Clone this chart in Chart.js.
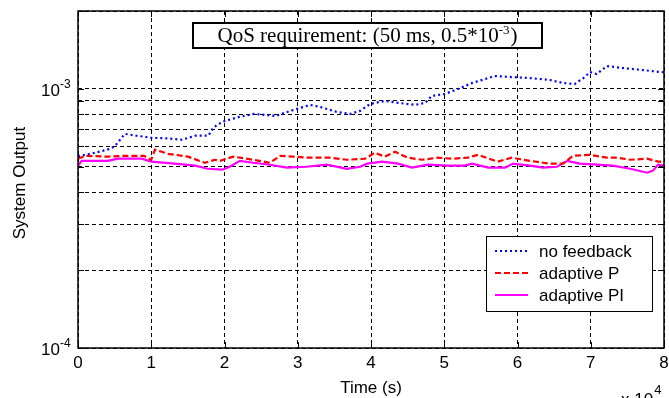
<!DOCTYPE html>
<html>
<head>
<meta charset="utf-8">
<script src="https://cdn.jsdelivr.net/npm/chart.js@4/dist/chart.umd.min.js"></script>
<style>
  html, body { margin: 0; padding: 0; background: #fff; }
  #wrap { width: 669px; height: 398px; position: relative; }
</style>
</head>
<body>
<div id="wrap"><canvas id="c" width="669" height="398"></canvas></div>
<script>
// ---- data (time in seconds, output values) ----
const noFeedbackTime = [0,2300,4000,5000,6400,8000,10000,12000,14200,16000,17800,18500,19700,22000,24000,27000,29400,31700,33000,35300,37100,38500,39900,41900,43700,46000,47400,48300,50100,51900,53800,55600,56900,59200,61700,64400,66200,67800,69000,69900,70800,72200,74400,77100,79500,80000];
const noFeedbackOutput = [5.50e-4,5.67e-4,5.83e-4,6.00e-4,6.71e-4,6.60e-4,6.48e-4,6.45e-4,6.37e-4,6.60e-4,6.60e-4,7.10e-4,7.47e-4,7.80e-4,8.01e-4,7.87e-4,8.30e-4,8.68e-4,8.53e-4,8.16e-4,8.01e-4,8.23e-4,8.76e-4,8.99e-4,8.84e-4,8.68e-4,8.84e-4,9.40e-4,9.57e-4,1.000e-3,1.055e-3,1.093e-3,1.122e-3,1.112e-3,1.102e-3,1.083e-3,1.055e-3,1.045e-3,1.102e-3,1.163e-3,1.142e-3,1.226e-3,1.204e-3,1.183e-3,1.163e-3,1.160e-3];

const adaptivePTime = [0,1000,4000,6500,9000,10000,10500,12300,15000,17300,18700,19400,21200,23900,26200,27600,29400,31200,34400,36700,39200,40500,41900,43300,45000,47000,49100,51000,53200,54600,57300,59200,61700,64400,66200,67600,69900,72200,73600,75400,77700,79200,80000];
const adaptivePOutput = [5.38e-4,5.52e-4,5.48e-4,5.52e-4,5.52e-4,5.33e-4,5.83e-4,5.62e-4,5.48e-4,5.19e-4,5.33e-4,5.28e-4,5.48e-4,5.33e-4,5.19e-4,5.52e-4,5.48e-4,5.43e-4,5.43e-4,5.33e-4,5.38e-4,5.67e-4,5.48e-4,5.72e-4,5.43e-4,5.33e-4,5.43e-4,5.38e-4,5.43e-4,5.57e-4,5.24e-4,5.43e-4,5.28e-4,5.15e-4,5.15e-4,5.52e-4,5.57e-4,5.43e-4,5.43e-4,5.33e-4,5.38e-4,5.24e-4,5.24e-4];

const adaptivePITime = [0,500,2300,4000,5500,8700,10000,13200,16000,17700,19700,20700,22100,23900,26200,28500,31200,34000,36700,38500,39500,41500,43700,45600,47800,50500,52800,53800,56000,58300,59400,61700,63500,65400,66800,68500,70800,73000,75400,77700,78500,79200,80000];
const adaptivePIOutput = [5.06e-4,5.28e-4,5.28e-4,5.28e-4,5.38e-4,5.38e-4,5.24e-4,5.15e-4,5.06e-4,4.92e-4,4.88e-4,5.01e-4,5.28e-4,5.19e-4,5.10e-4,4.97e-4,5.01e-4,5.10e-4,4.92e-4,5.01e-4,5.15e-4,5.24e-4,5.15e-4,4.97e-4,5.10e-4,5.06e-4,5.06e-4,5.15e-4,4.97e-4,4.97e-4,5.15e-4,5.06e-4,4.97e-4,5.01e-4,5.28e-4,5.15e-4,5.10e-4,5.06e-4,4.92e-4,4.75e-4,4.84e-4,5.10e-4,5.06e-4];

const seriesLabels = ['no feedback', 'adaptive P', 'adaptive PI'];
const xTickValues = [0,10000,20000,30000,40000,50000,60000,70000,80000];
const xTickLabels = ['0','1','2','3','4','5','6','7','8'];
const yGridValues = [1e-4,2e-4,3e-4,4e-4,5e-4,6e-4,7e-4,8e-4,9e-4,1e-3,2e-3];
const yLabelValues = [1e-3, 1e-4];
const yLabelExponents = ['-3', '-4'];
const xAxisTitle = 'Time (s)';
const yAxisTitle = 'System Output';
const xScaleBase = '10';
const xScaleExponent = '4';
const annotationText = 'QoS requirement: (50 ms, 0.5*10';
const annotationExp = '-3';
const annotationTail = ')';

function pts(t, v) { return t.map((x, i) => ({ x: x, y: v[i] })); }

const SANS = '"Liberation Sans", Arial, sans-serif';
const SERIF = '"Liberation Serif", "Times New Roman", serif';

const overlay = {
  id: 'overlay',
  beforeDraw(chart) {
    const ctx = chart.ctx;
    ctx.save();
    ctx.fillStyle = '#fff';
    ctx.fillRect(0, 0, chart.width, chart.height);
    ctx.restore();
  },
  afterDraw(chart) {
    const { ctx, chartArea: a, scales } = chart;
    const xs = scales.x, ys = scales.y;
    ctx.save();
    // axes box
    ctx.strokeStyle = '#000';
    ctx.lineWidth = 1.5;
    ctx.strokeRect(a.left, a.top, a.right - a.left, a.bottom - a.top);
    // inward ticks
    ctx.lineWidth = 1;
    ctx.beginPath();
    xTickValues.forEach(v => {
      const px = Math.round(xs.getPixelForValue(v)) + 0.5;
      ctx.moveTo(px, a.bottom); ctx.lineTo(px, a.bottom - 6);
      ctx.moveTo(px, a.top); ctx.lineTo(px, a.top + 6);
    });
    yGridValues.forEach(v => {
      const py = Math.round(ys.getPixelForValue(v)) + 0.5;
      ctx.moveTo(a.left, py); ctx.lineTo(a.left + 6, py);
      ctx.moveTo(a.right, py); ctx.lineTo(a.right - 6, py);
    });
    ctx.stroke();

    ctx.fillStyle = '#000';
    // x tick labels
    ctx.font = '17px ' + SANS;
    ctx.textAlign = 'center';
    ctx.textBaseline = 'alphabetic';
    xTickValues.forEach((v, i) => {
      ctx.fillText(xTickLabels[i], xs.getPixelForValue(v), a.bottom + 20);
    });
    // x scale exponent "x 10^4"
    ctx.textAlign = 'left';
    ctx.font = '17px ' + SANS;
    ctx.fillText('x ' + xScaleBase, 621, 405);
    const wx = ctx.measureText('x ' + xScaleBase).width;
    ctx.font = '13px ' + SANS;
    ctx.fillText(xScaleExponent, 621 + wx + 1, 394);

    // y labels 10^-3, 10^-4
    yLabelValues.forEach((v, i) => {
      const py = ys.getPixelForValue(v);
      ctx.font = '17px ' + SANS;
      ctx.textAlign = 'right';
      ctx.fillText('10', 60, py + 7);
      ctx.font = '12px ' + SANS;
      ctx.textAlign = 'left';
      ctx.fillText(yLabelExponents[i], 60, py - 1);
    });

    // axis titles
    ctx.font = '17px ' + SANS;
    ctx.textAlign = 'center';
    ctx.fillText(xAxisTitle, (a.left + a.right) / 2, 393);
    ctx.save();
    ctx.translate(25, 183);
    ctx.rotate(-Math.PI / 2);
    ctx.fillText(yAxisTitle, 0, 0);
    ctx.restore();

    // annotation box
    ctx.fillStyle = '#fff';
    ctx.fillRect(193, 23, 349, 25);
    ctx.strokeStyle = '#000';
    ctx.lineWidth = 2;
    ctx.strokeRect(193, 23, 349, 25);
    ctx.fillStyle = '#000';
    ctx.font = '21px ' + SERIF;
    ctx.textAlign = 'left';
    const w1 = ctx.measureText(annotationText).width;
    ctx.font = '13px ' + SERIF;
    const w2 = ctx.measureText(annotationExp).width;
    ctx.font = '21px ' + SERIF;
    const w3 = ctx.measureText(annotationTail).width;
    let sx = 367 - (w1 + w2 + w3) / 2;
    ctx.fillText(annotationText, sx, 42);
    ctx.font = '13px ' + SERIF;
    ctx.fillText(annotationExp, sx + w1, 34);
    ctx.font = '21px ' + SERIF;
    ctx.fillText(annotationTail, sx + w1 + w2 + 1, 42);

    // legend
    const lx = 486, ly = 236, lw = 166, lh = 75;
    ctx.fillStyle = '#fff';
    ctx.fillRect(lx, ly, lw, lh);
    ctx.strokeStyle = '#000';
    ctx.lineWidth = 1;
    ctx.strokeRect(lx + 0.5, ly + 0.5, lw, lh);
    const rows = [251, 273, 295];
    chart.data.datasets.forEach((ds, i) => {
      ctx.save();
      ctx.strokeStyle = ds.borderColor;
      ctx.lineWidth = ds.borderWidth;
      ctx.setLineDash(ds.borderDash || []);
      ctx.beginPath();
      ctx.moveTo(495, rows[i]); ctx.lineTo(528, rows[i]);
      ctx.stroke();
      ctx.restore();
      ctx.fillStyle = '#000';
      ctx.font = '17px ' + SANS;
      ctx.textAlign = 'left';
      ctx.fillText(ds.label, 539, rows[i] + 6);
    });
    ctx.restore();
  }
};

new Chart(document.getElementById('c'), {
  type: 'line',
  data: {
    datasets: [
      { label: seriesLabels[0], data: pts(noFeedbackTime, noFeedbackOutput), borderColor: '#0000ff', borderWidth: 2.2, borderDash: [2, 3], pointRadius: 0, fill: false, tension: 0 },
      { label: seriesLabels[1], data: pts(adaptivePTime, adaptivePOutput), borderColor: '#ff0000', borderWidth: 2.2, borderDash: [6, 3], pointRadius: 0, fill: false, tension: 0 },
      { label: seriesLabels[2], data: pts(adaptivePITime, adaptivePIOutput), borderColor: '#ff00ff', borderWidth: 2.2, pointRadius: 0, fill: false, tension: 0 }
    ]
  },
  options: {
    responsive: false,
    animation: false,
    devicePixelRatio: 1,
    layout: { padding: { left: 78, right: 5, top: 11, bottom: 50 } },
    plugins: { legend: { display: false }, tooltip: { enabled: false } },
    scales: {
      x: {
        type: 'linear', min: 0, max: 80000,
        afterBuildTicks: (s) => { s.ticks = xTickValues.map(v => ({ value: v })); },
        ticks: { display: false },
        grid: { color: '#000', lineWidth: 1, drawTicks: false },
        border: { display: false, dash: [4, 3] }
      },
      y: {
        type: 'logarithmic', min: 1e-4, max: 2e-3,
        afterBuildTicks: (s) => { s.ticks = yGridValues.map(v => ({ value: v })); },
        ticks: { display: false },
        grid: { color: '#000', lineWidth: 1, drawTicks: false },
        border: { display: false, dash: [4, 3] }
      }
    }
  },
  plugins: [overlay]
});
</script>
</body>
</html>
